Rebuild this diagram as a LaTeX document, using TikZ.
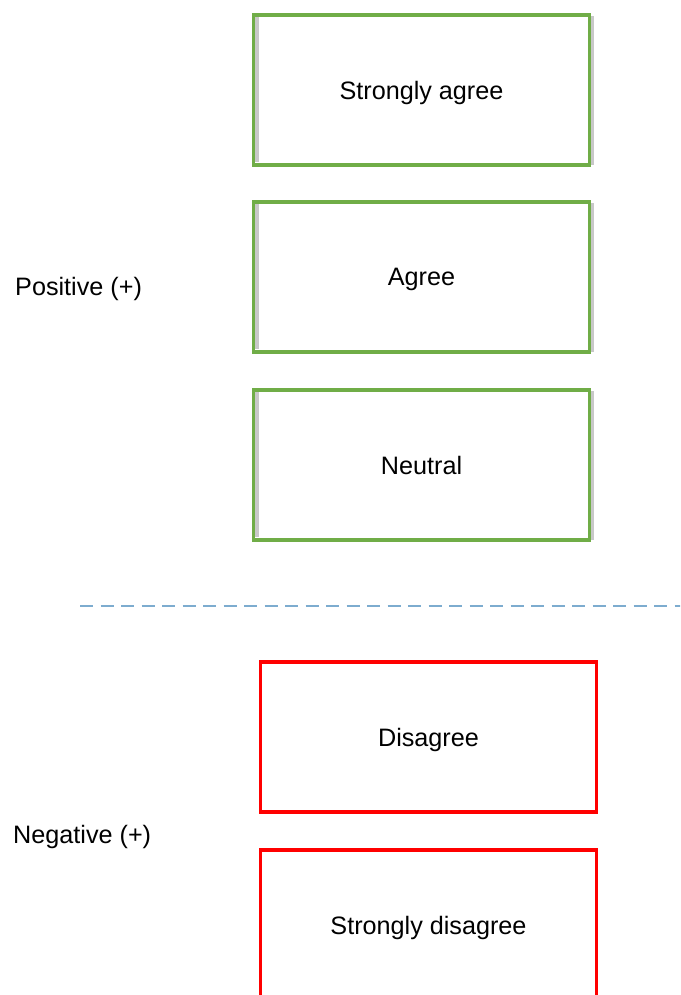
\documentclass[tikz,border=0pt]{standalone}
\usepackage{fontspec}
\setmainfont{Liberation Sans}
\definecolor{boxgreen}{RGB}{112,173,71}
\definecolor{boxred}{RGB}{255,0,0}
\definecolor{dashblue}{RGB}{125,172,207}
\definecolor{shadowgray}{RGB}{200,200,200}
\begin{document}
\begin{tikzpicture}[x=1pt,y=-1pt,
  every node/.style={font=\fontsize{25.2}{30}\selectfont, text=black, text depth=0pt},
  choicebox/.style={draw, line width=3.5pt, minimum width=336pt, minimum height=150pt, inner sep=0pt},
  posbox/.style={choicebox, draw=boxgreen},
  negbox/.style={choicebox, draw=boxred},
  sidelabel/.style={anchor=west, inner sep=0pt},
  divider/.style={draw=dashblue, line width=2.5pt, dash pattern=on 13pt off 7.5pt}]
\useasboundingbox (0,0) rectangle (680,995);
\clip (0,0) rectangle (680,995);
% soft shadows
\foreach \yy in {89,276,464}{
  \fill[shadowgray] (254.5,\yy-73) rectangle (258.5,\yy+73);
  \fill[shadowgray] (590,\yy-73) rectangle (594,\yy+76);
}
\node[posbox] (sa) at (421.5,90) {Strongly agree};
\node[posbox] (ag) at (421.5,277) {Agree};
\node[posbox] (ne) at (421.5,465) {Neutral};
\node[negbox] (di) at (428.5,737) {Disagree};
\node[negbox] (sd) at (428.5,925) {Strongly disagree};
\node[sidelabel] (pos) at (15,286) {Positive (+)};
\node[sidelabel] (neg) at (13,834) {Negative (+)};
\coordinate (dl) at (80,606);
\coordinate (dr) at (682,606);
\draw[divider] (dl) -- (dr);
\end{tikzpicture}
\end{document}
